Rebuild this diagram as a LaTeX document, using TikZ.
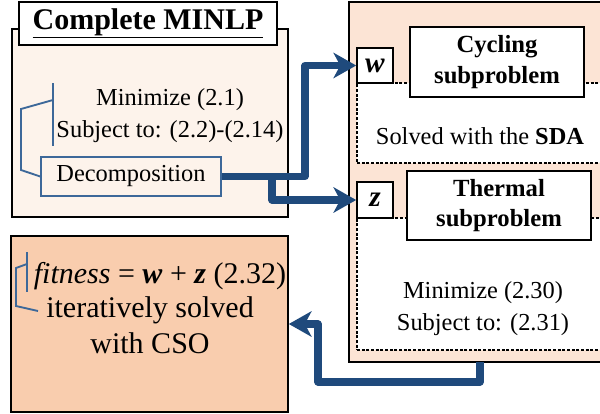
\documentclass[tikz,border=0pt]{standalone}
\usepackage{fontspec}
\setmainfont{Liberation Serif}
\usetikzlibrary{arrows.meta,fit}
\definecolor{creamA}{HTML}{FDF3EB}
\definecolor{peachA}{HTML}{FCE4D5}
\definecolor{peachB}{HTML}{F9CDAE}
\definecolor{flowblue}{HTML}{1F4A7C}
\definecolor{linkblue}{HTML}{3D6899}
\tikzset{
  panel/.style={draw=black, line width=1.2pt, inner sep=0pt},
  whitebox/.style={draw=black, line width=1.2pt, fill=white, inner sep=0pt},
  dashbox/.style={draw=black, line width=0.8pt, dash pattern=on 2.2pt off 1.3pt, fill=white, inner sep=0pt},
  flow/.style={draw=flowblue, line width=5.4pt, line join=round,
    -{Stealth[length=17pt,width=19pt,inset=5pt]}},
  brace/.style={draw=linkblue, line width=1.4pt},
  body/.style={font=\fontsize{18.3}{24}\selectfont, align=center},
  heading/.style={font=\bfseries\fontsize{22.5}{24}\selectfont},
  subtitle/.style={font=\bfseries\fontsize{18.5}{23}\selectfont, align=center},
  varlabel/.style={font=\bfseries\itshape\fontsize{22}{24}\selectfont},
  result/.style={font=\fontsize{22.5}{26}\selectfont, anchor=base},
}
\begin{document}
\begin{tikzpicture}[x=0.75pt,y=-0.75pt]
  \clip (0,0) rectangle (600,414);

  % complete MINLP panel
  \node[panel, fill=creamA, fit={(12,29) (288,217)}] (minlp) {};
  \node[whitebox, fit={(19,2) (277,45)}] (title) {};
  \node[heading] (titletext) at (title.center) {\underline{Complete MINLP}};
  \node[body] (obj) at (170,116) {Minimize (2.1)\\Subject to: (2.2)-(2.14)};
  \node[panel, draw=linkblue, fill=creamA, fit={(41,157) (221,196)}] (dec) {};
  \node[body] (dectext) at (dec.center) {Decomposition};
  \draw[brace] (53,83) -- (53,146);
  \draw[brace] (53,100) -- (21,109) -- (21,170) -- (dec.west);

  % subproblem panel
  \node[panel, fill=peachA, fit={(349,2) (615,362)}] (sub) {};
  \node[dashbox, fit={(357,83) (615,163)}] (cycreg) {};
  \node[body] (sda) at (480,136) {Solved with the \textbf{SDA}};
  \node[whitebox, fit={(357,48) (393,83)}] (wbox) {};
  \node[varlabel] (wtext) at (wbox.center) {w};
  \node[whitebox, fit={(410,27) (584,97)}] (cyc) {};
  \node[subtitle] (cyctext) at (cyc.center) {Cycling\\subproblem};

  \node[dashbox, fit={(357,218) (615,350)}] (thermreg) {};
  \node[body] (tobj) at (483,309) {Minimize (2.30)\\Subject to: (2.31)};
  \node[whitebox, fit={(357,182) (393,218)}] (zbox) {};
  \node[varlabel] (ztext) at (zbox.center) {z};
  \node[whitebox, fit={(407,171) (591,240)}] (therm) {};
  \node[subtitle] (thermtext) at (therm.center) {Thermal\\subproblem};

  % CSO panel
  \node[panel, fill=peachB, fit={(11,236) (288,412)}] (res) {};
  \node[result] (fit) at (160,283) {\textit{fitness} = \textbf{\textit{w}} + \textbf{\textit{z}} (2.32)};
  \node[result] (iter) at (150,317) {iteratively solved};
  \node[result] (cso) at (150,353) {with CSO};
  \draw[brace] (27,252) -- (27,292);
  \draw[brace] (27,264) -- (16,268) -- (16,306) -- (38,311);

  % flows between the panels
  \coordinate (split) at (272,176.5);
  \coordinate (fbstart) at (480,362);
  \draw[flow] (dec.east) -| (305,65.5) -- (wbox.west);
  \draw[flow] (split) |- (zbox.west);
  \draw[flow] (fbstart) -- (480,382) -| (318,324) -- (res.east);
\end{tikzpicture}
\end{document}
